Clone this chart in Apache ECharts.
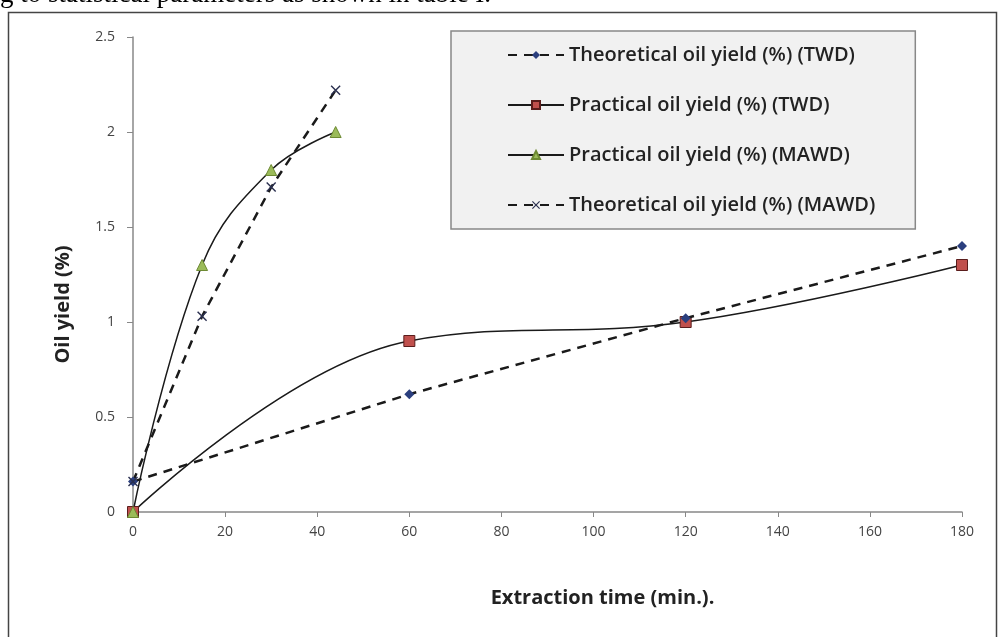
<!DOCTYPE html>
<html>
<head>
<meta charset="utf-8">
<script src="https://cdn.jsdelivr.net/npm/echarts@6/dist/echarts.min.js"></script>
<style>
  html, body { margin: 0; padding: 0; background: #fff; }
  #chart { width: 999px; height: 637px; }
</style>
</head>
<body>
<div id="chart"></div>
<script>
// 数据
const theoTWD = [[0, 0.16], [60, 0.62], [120, 1.02], [180, 1.4]];
const pracTWD = [[0, 0], [60, 0.9], [120, 1.0], [180, 1.3]];
const pracMAWD = [[0, 0], [15, 1.3], [30, 1.8], [44, 2.0]];
const theoMAWD = [[0, 0.16], [15, 1.03], [30, 1.71], [44, 2.22]];

const seriesNames = [
  'Theoretical oil yield (%) (TWD)',
  'Practical oil yield (%) (TWD)',
  'Practical oil yield (%) (MAWD)',
  'Theoretical oil yield (%) (MAWD)'
];

const FONT = '"Open Sans", Lato, sans-serif';
const X_MARK = 'path://M0,1L1,0L5,4L9,0L10,1L6,5L10,9L9,10L5,6L1,10L0,9L4,5Z';

const chart = echarts.init(document.getElementById('chart'));

chart.setOption({
  animation: false,
  backgroundColor: '#fff',
  textStyle: { fontFamily: FONT },
  graphic: [
    {
      type: 'text',
      left: 0,
      top: -19,
      style: {
        text: 'g to statistical parameters as shown in table I.',
        font: '27px "Liberation Serif", serif',
        fill: '#000'
      }
    },
    {
      type: 'rect',
      shape: { x: 8.5, y: 12.5, width: 988, height: 640 },
      style: { fill: 'none', stroke: '#444', lineWidth: 1.5 },
      z: -1
    }
  ],
  grid: { left: 133, right: 37, top: 37, bottom: 125 },
  legend: {
    orient: 'vertical',
    left: 451,
    top: 31,
    padding: [14, 40, 14, 56],
    itemGap: 30,
    itemWidth: 56,
    itemHeight: 10,
    backgroundColor: '#f1f1f1',
    borderColor: '#888',
    borderWidth: 1.5,
    textStyle: { fontSize: 20, color: '#222', fontFamily: FONT, fontWeight: 600 },
    data: seriesNames
  },
  xAxis: {
    type: 'value',
    min: 0,
    max: 180,
    interval: 20,
    name: 'Extraction time (min.).',
    nameLocation: 'middle',
    nameGap: 76,
    nameTextStyle: { fontSize: 20, fontWeight: 'bold', color: '#222', padding: [0, 0, 0, 110] },
    axisLine: { lineStyle: { color: '#888', width: 1.5 } },
    axisTick: { show: true, length: 5, lineStyle: { color: '#888' } },
    axisLabel: { color: '#444', fontSize: 14, margin: 13 },
    splitLine: { show: false }
  },
  yAxis: {
    type: 'value',
    min: 0,
    max: 2.5,
    interval: 0.5,
    name: 'Oil yield (%)',
    nameLocation: 'middle',
    nameGap: 60,
    nameRotate: 90,
    nameTextStyle: { fontSize: 20, fontWeight: 'bold', color: '#222', padding: [0, 60, 0, 0] },
    axisLine: { show: true, lineStyle: { color: '#888', width: 1.5 } },
    axisTick: { show: true, length: 6, lineStyle: { color: '#888' } },
    axisLabel: { color: '#444', fontSize: 14, margin: 18 },
    splitLine: { show: false }
  },
  series: [
    {
      name: seriesNames[0],
      type: 'line',
      data: theoTWD,
      symbol: 'diamond',
      symbolSize: 10,
      itemStyle: { color: '#2b3f7e' },
      lineStyle: { color: '#1a1a1a', width: 2.5, type: [9, 7] },
      z: 3
    },
    {
      name: seriesNames[1],
      type: 'line',
      data: pracTWD,
      smooth: 0.4,
      symbol: 'rect',
      symbolSize: 11,
      itemStyle: { color: '#c0504d', borderColor: '#5a1d1c', borderWidth: 1 },
      lineStyle: { color: '#1a1a1a', width: 1.5 },
      z: 2
    },
    {
      name: seriesNames[2],
      type: 'line',
      data: pracMAWD,
      smooth: 0.4,
      symbol: 'triangle',
      symbolSize: 11,
      itemStyle: { color: '#9bbb59', borderColor: '#6d8a33', borderWidth: 1 },
      lineStyle: { color: '#1a1a1a', width: 1.5 },
      z: 2
    },
    {
      name: seriesNames[3],
      type: 'line',
      data: theoMAWD,
      symbol: X_MARK,
      symbolSize: 10,
      itemStyle: { color: '#2a2f4f' },
      lineStyle: { color: '#1a1a1a', width: 2.5, type: [9, 7] },
      z: 3
    }
  ]
});
</script>
</body>
</html>
